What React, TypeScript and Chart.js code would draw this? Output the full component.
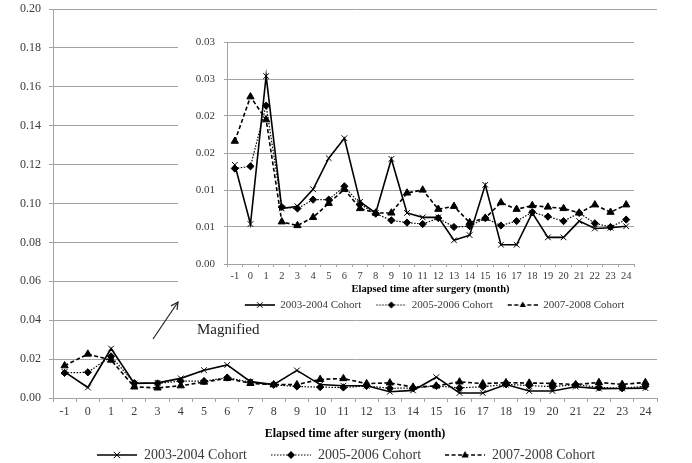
import React, { useEffect, useRef } from 'react';
import { Chart, registerables } from 'chart.js';

Chart.register(...registerables);

// ---------- data ----------
const MONTHS = ['-1', '0', '1', '2', '3', '4', '5', '6', '7', '8', '9', '10', '11', '12', '13', '14', '15', '16', '17', '18', '19', '20', '21', '22', '23', '24'];
const COHORT_2003_2004 = [0.0134, 0.0054, 0.0254, 0.0075, 0.0078, 0.0101, 0.0143, 0.0170, 0.0084, 0.0069, 0.0142, 0.0069, 0.0063, 0.0063, 0.0032, 0.0039, 0.0107, 0.0026, 0.0026, 0.0069, 0.0036, 0.0036, 0.0058, 0.0048, 0.0049, 0.0051];
const COHORT_2005_2006 = [0.0129, 0.0132, 0.0214, 0.0077, 0.0075, 0.0087, 0.0087, 0.0105, 0.0081, 0.0068, 0.0059, 0.0056, 0.0054, 0.0062, 0.0050, 0.0051, 0.0062, 0.0052, 0.0058, 0.0070, 0.0064, 0.0058, 0.0069, 0.0055, 0.0050, 0.0060];
const COHORT_2007_2008 = [0.0166, 0.0226, 0.0195, 0.0057, 0.0052, 0.0063, 0.0082, 0.0101, 0.0075, 0.0069, 0.0069, 0.0096, 0.0100, 0.0074, 0.0078, 0.0056, 0.0062, 0.0083, 0.0074, 0.0079, 0.0077, 0.0075, 0.0069, 0.0080, 0.0070, 0.0080];
const SERIES_LABELS = ['2003-2004 Cohort', '2005-2006 Cohort', '2007-2008 Cohort'];
const MAIN_Y_TICKS = [0, 0.02, 0.04, 0.06, 0.08, 0.1, 0.12, 0.14, 0.16, 0.18, 0.2];
const MAIN_Y_LABELS = ['0.00', '0.02', '0.04', '0.06', '0.08', '0.10', '0.12', '0.14', '0.16', '0.18', '0.20'];
const INSET_Y_TICKS = [0, 0.005, 0.01, 0.015, 0.02, 0.025, 0.03];
const INSET_Y_LABELS = ['0.00', '0.01', '0.01', '0.02', '0.02', '0.03', '0.03'];
const X_TITLE = 'Elapsed time after surgery (month)';
const NOTE = 'Magnified';

// ---------- styles ----------
const SERIF = "'Liberation Serif', 'Times New Roman', serif";
const GRID = '#a3a3a3';
const TEXT = '#3a3a3a';

const STYLES = [
  { dash: [] as number[], width: 1.6, point: 'crossRot' },
  { dash: [1.5, 1.5], width: 1.2, point: 'rectRot' },
  { dash: [4, 2.5], width: 1.6, point: 'triangle' },
];

type Spec = {
  yWidth: number; padRight: number; rightAxisW: number; top: number;
  legendH: number; legendPad: number; legendFont: number;
  xHeight: number; xTick: number; xTickPad: number; titleFont: number; titlePadB: number;
  xTickFont: number; yTickFont: number; yTickPad: number; yTick: number;
  yMax: number; yTicks: number[]; yLabels: string[]; pointR: number[];
  iconBlank: number; iconLen: number; iconH: number; iconR: number;
};

const MAIN: Spec = {
  yWidth: 53, padRight: 18, rightAxisW: 17, top: 9,
  legendH: 21, legendPad: 6, legendFont: 14,
  xHeight: 44, xTick: 4, xTickPad: 3, titleFont: 12, titlePadB: 1,
  xTickFont: 12, yTickFont: 12, yTickPad: 8, yTick: 4,
  yMax: 0.2, yTicks: MAIN_Y_TICKS, yLabels: MAIN_Y_LABELS, pointR: [4, 3.6, 4.2],
  iconBlank: 18, iconLen: 40, iconH: 12, iconR: 4,
};

const INSET: Spec = {
  yWidth: 49, padRight: 11, rightAxisW: 46, top: 30,
  legendH: 19.5, legendPad: 4, legendFont: 11,
  xHeight: 31.5, xTick: 3, xTickPad: 3, titleFont: 10.5, titlePadB: 0,
  xTickFont: 10.5, yTickFont: 11, yTickPad: 9, yTick: 3,
  yMax: 0.03, yTicks: INSET_Y_TICKS, yLabels: INSET_Y_LABELS, pointR: [4, 3.6, 4.2],
  iconBlank: 11, iconLen: 30, iconH: 10, iconR: 3.5,
};

function drawMarker(g: CanvasRenderingContext2D, kind: string, cx: number, cy: number, r: number) {
  g.beginPath();
  if (kind === 'crossRot') {
    const d = r * 0.8;
    g.moveTo(cx - d, cy - d); g.lineTo(cx + d, cy + d);
    g.moveTo(cx - d, cy + d); g.lineTo(cx + d, cy - d);
    g.stroke();
  } else if (kind === 'rectRot') {
    g.moveTo(cx, cy - r); g.lineTo(cx + r, cy); g.lineTo(cx, cy + r); g.lineTo(cx - r, cy);
    g.closePath(); g.fill();
  } else {
    g.moveTo(cx, cy - r); g.lineTo(cx + r * 0.9, cy + r * 0.6); g.lineTo(cx - r * 0.9, cy + r * 0.6);
    g.closePath(); g.fill();
  }
}

function makeIcons(s: Spec): HTMLCanvasElement[] {
  return STYLES.map((st) => {
    const c = document.createElement('canvas');
    c.width = s.iconBlank + s.iconLen;
    c.height = s.iconH;
    const g = c.getContext('2d')!;
    const y = s.iconH / 2;
    g.strokeStyle = '#000';
    g.fillStyle = '#000';
    g.lineWidth = st.width;
    g.setLineDash(st.dash);
    g.beginPath(); g.moveTo(s.iconBlank, y); g.lineTo(s.iconBlank + s.iconLen, y); g.stroke();
    g.setLineDash([]);
    g.lineWidth = 1;
    drawMarker(g, st.point, s.iconBlank + s.iconLen / 2, y, s.iconR);
    return c;
  });
}

function buildConfig(s: Spec): any {
  const series = [COHORT_2003_2004, COHORT_2005_2006, COHORT_2007_2008];
  const icons = makeIcons(s);
  return {
    type: 'line',
    data: {
      labels: MONTHS,
      datasets: series.map((d, i) => ({
        label: SERIES_LABELS[i],
        data: d,
        borderColor: '#000',
        backgroundColor: '#000',
        borderWidth: STYLES[i].width,
        borderDash: STYLES[i].dash,
        pointStyle: STYLES[i].point,
        pointRadius: s.pointR[i],
        pointBorderWidth: 1,
        pointBackgroundColor: '#000',
        pointBorderColor: '#000',
        tension: 0,
        fill: false,
        yAxisID: 'y',
      })),
    },
    options: {
      responsive: false,
      animation: false,
      events: [],
      layout: { padding: { left: 0, right: s.padRight, top: s.top, bottom: 0 } },
      plugins: {
        tooltip: { enabled: false },
        legend: {
          position: 'bottom',
          maxHeight: s.legendH,
          labels: {
            usePointStyle: true,
            pointStyleWidth: icons[0].width,
            boxHeight: s.legendFont,
            padding: s.legendPad,
            color: TEXT,
            font: { family: SERIF, size: s.legendFont },
            generateLabels: () => SERIES_LABELS.map((t, i) => ({
              text: t, pointStyle: icons[i], datasetIndex: i, hidden: false,
              lineWidth: 0, fillStyle: '#000', strokeStyle: '#000', fontColor: TEXT,
            })),
          },
        },
      },
      scales: {
        x: {
          type: 'category',
          offset: true,
          grid: { display: true, drawOnChartArea: false, drawTicks: true, tickLength: s.xTick, offset: true, color: GRID },
          border: { display: true, color: GRID, width: 1 },
          ticks: { autoSkip: false, maxRotation: 0, padding: s.xTickPad, color: TEXT, font: { family: SERIF, size: s.xTickFont } },
          title: { display: true, text: X_TITLE, color: '#000', font: { family: SERIF, size: s.titleFont, weight: 'bold' }, padding: { top: 0, bottom: s.titlePadB } },
          afterFit: (sc: any) => { sc.height = s.xHeight; sc.paddingLeft = 0; sc.paddingRight = 0; },
        },
        y: {
          type: 'linear',
          position: 'left',
          min: 0,
          max: s.yMax,
          afterBuildTicks: (sc: any) => { sc.ticks = s.yTicks.map((v) => ({ value: v })); },
          grid: { display: true, drawOnChartArea: true, drawTicks: true, tickLength: s.yTick, color: GRID, lineWidth: 1 },
          border: { display: true, color: GRID, width: 1 },
          ticks: {
            padding: s.yTickPad, color: TEXT, font: { family: SERIF, size: s.yTickFont },
            callback: (_v: any, idx: number) => s.yLabels[idx],
          },
          afterFit: (sc: any) => { sc.width = s.yWidth; sc.paddingTop = 0; sc.paddingBottom = 0; },
        },
        spacer: {
          type: 'linear',
          position: 'right',
          display: true,
          grid: { display: false, drawTicks: false },
          border: { display: false },
          ticks: { display: false },
          afterFit: (sc: any) => { sc.width = s.rightAxisW; sc.paddingTop = 0; sc.paddingBottom = 0; },
        },
      },
    },
  };
}

// arrow annotation geometry
const ARROW_TAIL = [153, 339];
const ARROW_TIP = [178, 302];

function arrowHead(): string {
  const [tx, ty] = ARROW_TIP;
  const [ax, ay] = ARROW_TAIL;
  const len = Math.hypot(ax - tx, ay - ty);
  const ux = (ax - tx) / len;
  const uy = (ay - ty) / len;
  const h = 8;
  const ang = (27 * Math.PI) / 180;
  const p1 = [tx + h * (ux * Math.cos(ang) - uy * Math.sin(ang)), ty + h * (ux * Math.sin(ang) + uy * Math.cos(ang))];
  const p2 = [tx + h * (ux * Math.cos(-ang) - uy * Math.sin(-ang)), ty + h * (ux * Math.sin(-ang) + uy * Math.cos(-ang))];
  return `M${p1[0]},${p1[1]} L${tx},${ty} L${p2[0]},${p2[1]}`;
}

export default function App() {
  const mainRef = useRef<HTMLCanvasElement>(null);
  const insetRef = useRef<HTMLCanvasElement>(null);

  useEffect(() => {
    const charts: Chart[] = [];
    if (mainRef.current) charts.push(new Chart(mainRef.current, buildConfig(MAIN)));
    if (insetRef.current) charts.push(new Chart(insetRef.current, buildConfig(INSET)));
    return () => charts.forEach((c) => c.destroy());
  }, []);

  return (
    <div style={{ position: 'fixed', left: 0, top: 0, width: 692, height: 463, background: '#fff', overflow: 'hidden' }}>
      <canvas ref={mainRef} width={692} height={463} style={{ position: 'absolute', left: 0, top: 0 }} />
      <canvas ref={insetRef} width={513} height={303} style={{ position: 'absolute', left: 178, top: 12, background: '#fff' }} />
      <svg width={692} height={463} style={{ position: 'absolute', left: 0, top: 0, pointerEvents: 'none' }}>
        <line x1={ARROW_TAIL[0]} y1={ARROW_TAIL[1]} x2={ARROW_TIP[0]} y2={ARROW_TIP[1]} stroke="#222" strokeWidth={1.2} />
        <path d={arrowHead()} fill="none" stroke="#222" strokeWidth={1.2} />
      </svg>
      <div style={{ position: 'absolute', left: 197, top: 322, fontFamily: SERIF, fontSize: 15, lineHeight: '15px', color: '#222', whiteSpace: 'nowrap' }}>
        {NOTE}
      </div>
    </div>
  );
}
